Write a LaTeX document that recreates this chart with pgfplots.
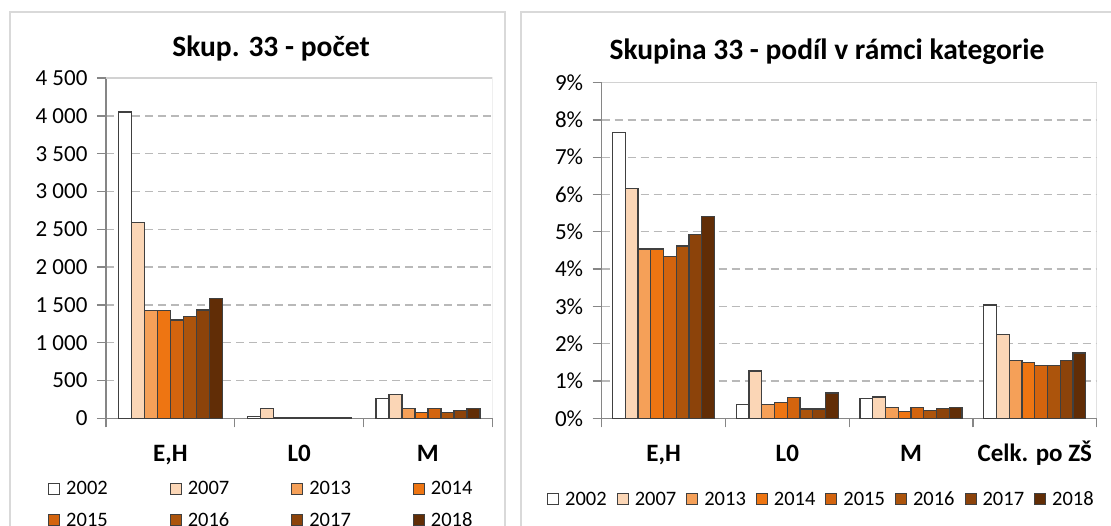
\documentclass[border=0pt]{standalone}
\usepackage{fontspec}
\setmainfont{Carlito}
\usepackage{pgfplots}
\pgfplotsset{compat=1.18}

\definecolor{c2002}{RGB}{255,255,255}
\definecolor{c2007}{RGB}{251,214,182}
\definecolor{c2013}{RGB}{245,160,88}
\definecolor{c2014}{RGB}{238,117,18}
\definecolor{c2015}{RGB}{211,100,14}
\definecolor{c2016}{RGB}{172,84,12}
\definecolor{c2017}{RGB}{140,67,10}
\definecolor{c2018}{RGB}{97,45,6}
\definecolor{edgec}{RGB}{64,64,64}
\definecolor{axisc}{RGB}{134,134,134}
\definecolor{gridc}{RGB}{185,185,185}
\definecolor{borderc}{RGB}{210,210,210}
\definecolor{framec}{RGB}{217,217,217}

\pgfplotsset{
  common/.style={
    scale only axis,
    anchor=south west,
    axis lines=left,
    axis line style={-, draw=axisc, line width=1.4pt},
    tick align=outside,
    major tick length=9pt,
    every tick/.style={draw=axisc, line width=1.4pt},
    ymin=0,
    ymajorgrids,
    grid style={draw=gridc, line width=1.4pt, dash pattern=on 8pt off 5pt},
    yticklabel style={font=\fontsize{23}{27}\selectfont, anchor=east, xshift=-6pt},
    xticklabels={},
    extra x tick style={major tick length=0pt,
      tick label style={font=\bfseries\fontsize{25}{30}\selectfont,
        text height=17pt, text depth=5pt, anchor=north, yshift=-23pt}},
    ybar=0pt,
    every axis plot/.append style={draw=edgec, line width=1.2pt},
    legend image code/.code={\draw[#1, line width=1pt] (0pt,-5.5pt) rectangle (11pt,5.5pt);},
    legend style={draw=none, fill=none, inner sep=0pt, anchor=north west,
      font=\fontsize{20.5}{24}\selectfont, row sep=10pt,
      nodes={inner xsep=6pt, inner ysep=3pt}},
  }
}

\begin{document}
\begin{tikzpicture}
\path[use as bounding box, fill=white] (0pt,0pt) rectangle (1111pt,526pt);
% panel frames
\draw[framec, line width=2pt] (10pt,-10pt) -- (10pt,514pt) -- (505pt,514pt) -- (505pt,-10pt);
\draw[framec, line width=2pt] (520.7pt,-10pt) -- (520.7pt,514pt) -- (1125pt,514pt);
% titles
\node[font=\bfseries\fontsize{29.5}{34}\selectfont] at (271pt,478pt) {Skup. 33 - počet};
\node[font=\bfseries\fontsize{29.5}{34}\selectfont] at (827pt,474pt) {Skupina 33 - podíl v rámci kategorie};

\begin{axis}[common,
  at={(106pt,107.7pt)}, width=386.3pt, height=340.3pt,
  xmin=-0.5, xmax=2.5, ymax=4500,
  xtick={-0.5,0.5,1.5,2.5},
  extra x ticks={0,1,2}, extra x tick labels={{E,H},L0,M},
  ytick={0,500,1000,1500,2000,2500,3000,3500,4000,4500},
  yticklabels={0,500,1 000,1 500,2 000,2 500,3 000,3 500,4 000,4 500},
  bar width=13pt,
  legend columns=4,
  legend style={at={(axis description cs:-0.1501,-0.1769)},
    /tikz/every even column/.append style={column sep=56pt}},
]
\addplot[fill=c2002] coordinates {(0,4050) (1,25) (2,260)};
\addplot[fill=c2007] coordinates {(0,2590) (1,130) (2,310)};
\addplot[fill=c2013] coordinates {(0,1423) (1,15) (2,128)};
\addplot[fill=c2014] coordinates {(0,1423) (1,15) (2,80)};
\addplot[fill=c2015] coordinates {(0,1300) (1,15) (2,128)};
\addplot[fill=c2016] coordinates {(0,1349) (1,15) (2,80)};
\addplot[fill=c2017] coordinates {(0,1432) (1,15) (2,106)};
\addplot[fill=c2018] coordinates {(0,1587) (1,15) (2,128)};
\legend{2002,2007,2013,2014,2015,2016,2017,2018}
\draw[borderc, line width=1.4pt] (rel axis cs:0,1) -- (rel axis cs:1,1) -- (rel axis cs:1,0);
\end{axis}

\begin{axis}[common,
  at={(601.7pt,107.7pt)}, width=495pt, height=335.7pt,
  xmin=-0.5, xmax=3.5, ymax=9,
  xtick={-0.5,0.5,1.5,2.5,3.5},
  extra x ticks={0,1,2,3}, extra x tick labels={{E,H},L0,M,Celk. po ZŠ},
  ytick={0,1,2,3,4,5,6,7,8,9},
  yticklabels={0\%,1\%,2\%,3\%,4\%,5\%,6\%,7\%,8\%,9\%},
  bar width=12.75pt,
  legend columns=8,
  legend style={at={(axis description cs:-0.1105,-0.2091)},
    nodes={inner xsep=6pt},
    /tikz/every even column/.append style={column sep=4pt}},
]
\addplot[fill=c2002] coordinates {(0,7.67) (1,0.36) (2,0.52) (3,3.04)};
\addplot[fill=c2007] coordinates {(0,6.17) (1,1.27) (2,0.57) (3,2.24)};
\addplot[fill=c2013] coordinates {(0,4.54) (1,0.36) (2,0.30) (3,1.54)};
\addplot[fill=c2014] coordinates {(0,4.54) (1,0.42) (2,0.18) (3,1.49)};
\addplot[fill=c2015] coordinates {(0,4.33) (1,0.56) (2,0.30) (3,1.41)};
\addplot[fill=c2016] coordinates {(0,4.62) (1,0.25) (2,0.21) (3,1.41)};
\addplot[fill=c2017] coordinates {(0,4.93) (1,0.25) (2,0.26) (3,1.54)};
\addplot[fill=c2018] coordinates {(0,5.40) (1,0.68) (2,0.30) (3,1.75)};
\legend{2002,2007,2013,2014,2015,2016,2017,2018}
\draw[borderc, line width=1.4pt] (rel axis cs:0,1) -- (rel axis cs:1,1) -- (rel axis cs:1,0);
\end{axis}
\end{tikzpicture}
\end{document}
